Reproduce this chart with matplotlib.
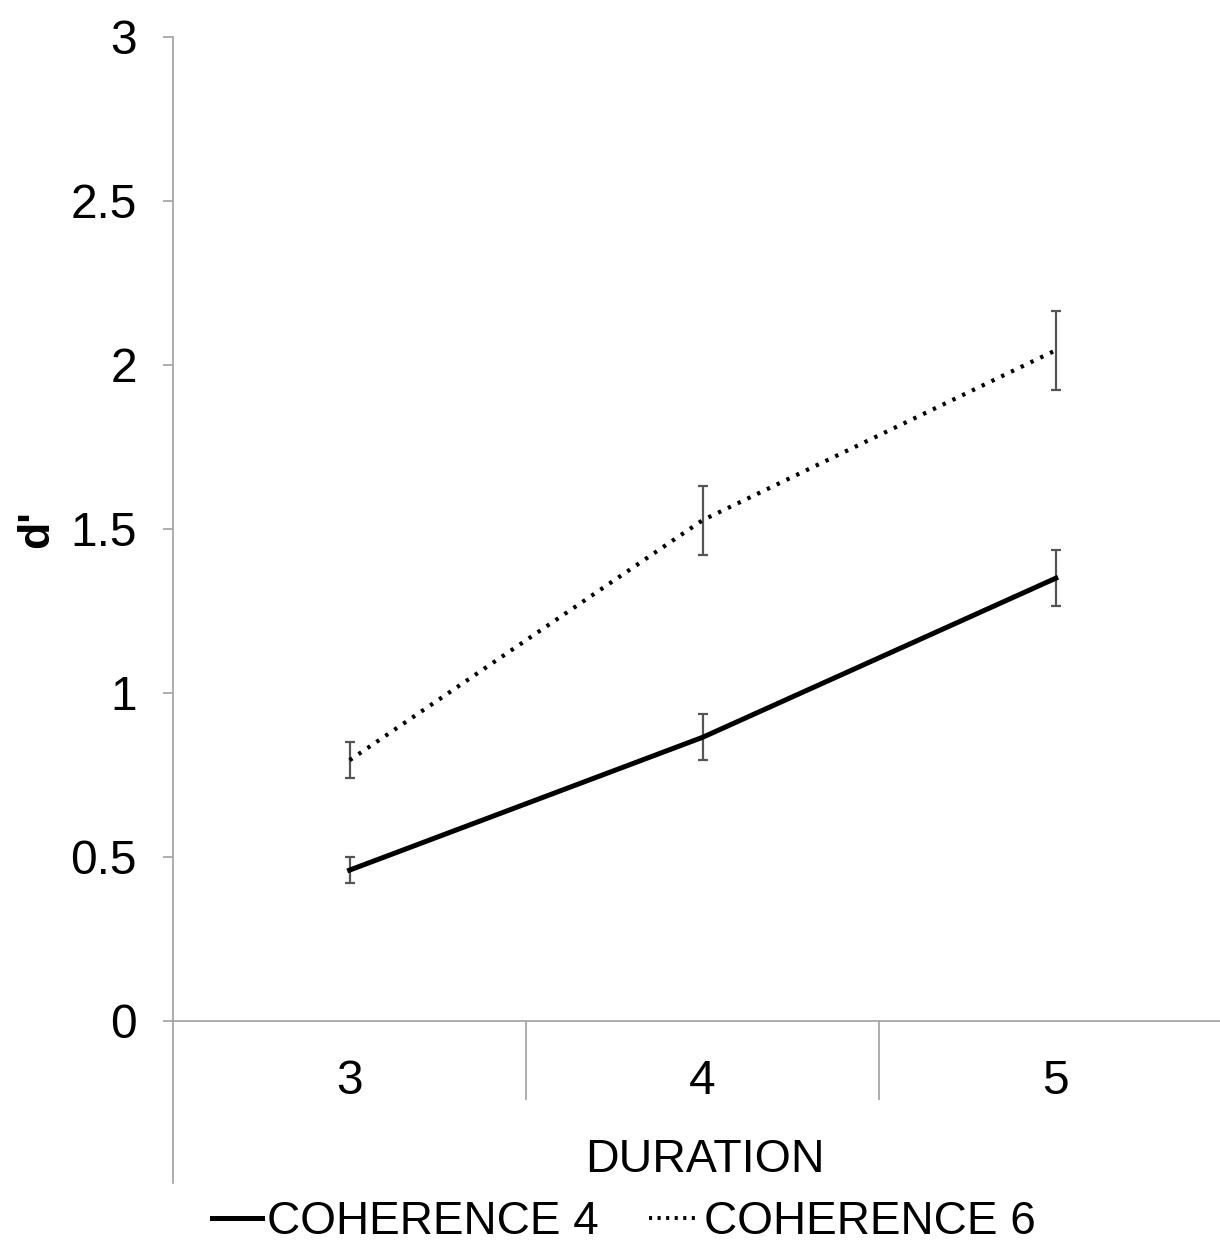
import matplotlib
matplotlib.use("Agg")
import matplotlib.pyplot as plt
from matplotlib.lines import Line2D
import numpy as np

plt.rcParams['font.family'] = ['Liberation Sans', 'DejaVu Sans']

# data
durations = ['3', '4', '5']
coh4 = [0.46, 0.865, 1.35]
coh4_err = [0.04, 0.07, 0.085]
coh6 = [0.795, 1.527, 2.045]
coh6_err = [0.055, 0.105, 0.12]
yticks = [0, 0.5, 1, 1.5, 2, 2.5, 3]
ytick_labels = ['0', '0.5', '1', '1.5', '2', '2.5', '3']

axis_grey = '#a0a0a0'
dotted = (0, (0.8, 1.8))

fig = plt.figure(figsize=(12.2, 12.52), dpi=100)
ax = fig.add_axes([173/1220, (1252-1021)/1252, 1 - 173/1220, (1021-37)/1252])

x = np.arange(len(durations))
ax.errorbar(x, coh4, yerr=coh4_err, color='black', lw=3.6, ecolor='#555555',
            elinewidth=1.6, capsize=3.5, capthick=1.6)
ax.errorbar(x, coh6, yerr=coh6_err, color='black', lw=3, linestyle=dotted,
            ecolor='#555555', elinewidth=1.6, capsize=3.5, capthick=1.6)

ax.set_ylim(0, 3)
ax.set_xlim(-0.5, 2.465)
ax.set_yticks(yticks)
ax.set_yticklabels(ytick_labels, fontsize=34.5)
ax.tick_params(axis='y', direction='out', length=7, width=1.2, color=axis_grey, pad=19)

# category boundaries as long ticks, labels in the middle
ax.set_xticks([0.5, 1.5])
ax.set_xticklabels([])
ax.tick_params(axis='x', which='major', direction='out', length=57, width=1.2, color=axis_grey)
ax.set_xticks(x, minor=True)
ax.set_xticklabels(durations, minor=True, fontsize=34.5)
ax.tick_params(axis='x', which='minor', length=0, pad=27)

for s in ['top', 'right']:
    ax.spines[s].set_visible(False)
for s in ['left', 'bottom']:
    ax.spines[s].set_color(axis_grey)
    ax.spines[s].set_linewidth(1.2)

# left axis line runs on below the category axis
ax.add_line(Line2D([0, 0], [0, -0.165], transform=ax.transAxes, color=axis_grey,
                   lw=1.2, clip_on=False))

ax.set_xlabel('DURATION', fontsize=33.5)
ax.xaxis.set_label_coords((705-173)/1047, -(1138-1021)/984)
ax.set_ylabel("d'", fontsize=32, fontweight='bold')
ax.yaxis.set_label_coords(-(173-57)/1047, (1021-529)/984)

handles = [Line2D([], [], color='black', lw=3.6),
           Line2D([], [], color='black', lw=2.8, linestyle=(0, (0.8, 1.4)))]
fig.legend(handles, ['COHERENCE 4', 'COHERENCE 6'], loc='center',
           bbox_to_anchor=(624/1220, (1252-1222)/1252), ncol=2,
           frameon=False, fontsize=33, handlelength=1.1, handletextpad=0.1,
           columnspacing=1.1)

fig.savefig('out.png', dpi=100)
